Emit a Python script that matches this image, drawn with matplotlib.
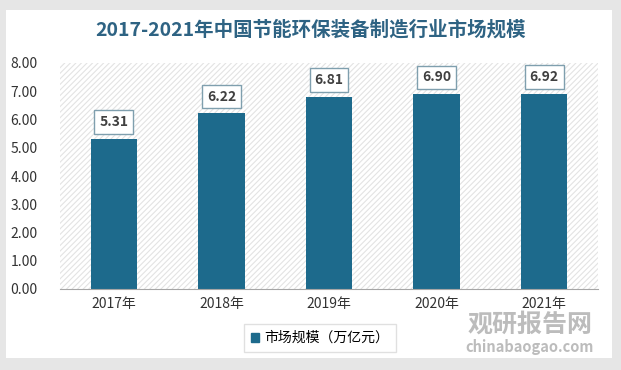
import matplotlib.pyplot as plt
from matplotlib.patches import Rectangle

plt.rcParams['font.family'] = ['Noto Sans CJK SC', 'DejaVu Sans']
plt.rcParams['hatch.color'] = '#e3e3e3'
plt.rcParams['hatch.linewidth'] = 0.8

years = ['2017年', '2018年', '2019年', '2020年', '2021年']
values = [5.31, 6.22, 6.81, 6.90, 6.92]
bar_color = '#1d6a8c'

fig = plt.figure(figsize=(6.21, 3.70), dpi=100)
fig.patch.set_facecolor('#e6e6e6')

# white card behind everything
bg = fig.add_axes([0, 0, 1, 1], zorder=-10)
bg.axis('off')
bg.set_xlim(0, 621)
bg.set_ylim(370, 0)
bg.add_patch(Rectangle((6, 10), 606, 348, facecolor='white', edgecolor='none'))

ax = fig.add_axes([60 / 621, 1 - 289 / 370, 538 / 621, 226 / 370])
ax.set_facecolor('none')
ax.add_patch(Rectangle((0, 0), 1, 1, transform=ax.transAxes, facecolor='white',
                       edgecolor='#e3e3e3', hatch='//////', linewidth=0, zorder=0))

x = range(len(years))
ax.bar(x, values, width=0.43, color=bar_color, zorder=2)
for xi, v in zip(x, values):
    ax.annotate(f'{v:.2f}', (xi, v), xytext=(0, 12), textcoords='offset points',
                ha='center', va='center', fontsize=10, fontweight='bold', color='#404040',
                bbox=dict(boxstyle='square,pad=0.35', facecolor='white',
                          edgecolor='#7f9fae', linewidth=1), zorder=3)

ax.set_xlim(-0.5, 4.5)
ax.set_ylim(0, 8)
ax.set_yticks(range(0, 9))
ax.set_yticklabels([f'{t:.2f}' for t in range(0, 9)], fontsize=10, color='#333333')
ax.set_xticks(list(x))
ax.set_xticklabels(years, fontsize=10, color='#333333')
ax.tick_params(length=0, pad=6)
ax.tick_params(axis='y', pad=16)
for s in ['top', 'right', 'left']:
    ax.spines[s].set_visible(False)
ax.spines['bottom'].set_color('#a6a6a6')

fig.text(0.5, 1 - 30 / 370, '2017-2021年中国节能环保装备制造行业市场规模',
         ha='center', va='center', fontsize=14, fontweight='bold', color='#2e6383')

leg = ax.legend([Rectangle((0, 0), 1, 1, color=bar_color)], ['市场规模（万亿元）'],
                loc='center', bbox_to_anchor=(320 / 621, 1 - 338 / 370),
                bbox_transform=fig.transFigure, fontsize=10, frameon=True,
                fancybox=False, handlelength=0.6, handleheight=0.6, handletextpad=0.4,
                borderpad=0.5)
leg.get_frame().set_edgecolor('#d9d9d9')

fig.text(530 / 621, 1 - 325 / 370, '观研报告网', ha='center', va='center', fontsize=18,
         fontweight='bold', color='#b5b5b5', alpha=0.9)
fig.text(530 / 621, 1 - 347 / 370, 'chinabaogao.com', ha='center', va='center',
         fontsize=10.5, fontweight='bold', color='#b5b5b5', alpha=0.9)

fig.savefig('out.png', dpi=100, facecolor=fig.get_facecolor())
